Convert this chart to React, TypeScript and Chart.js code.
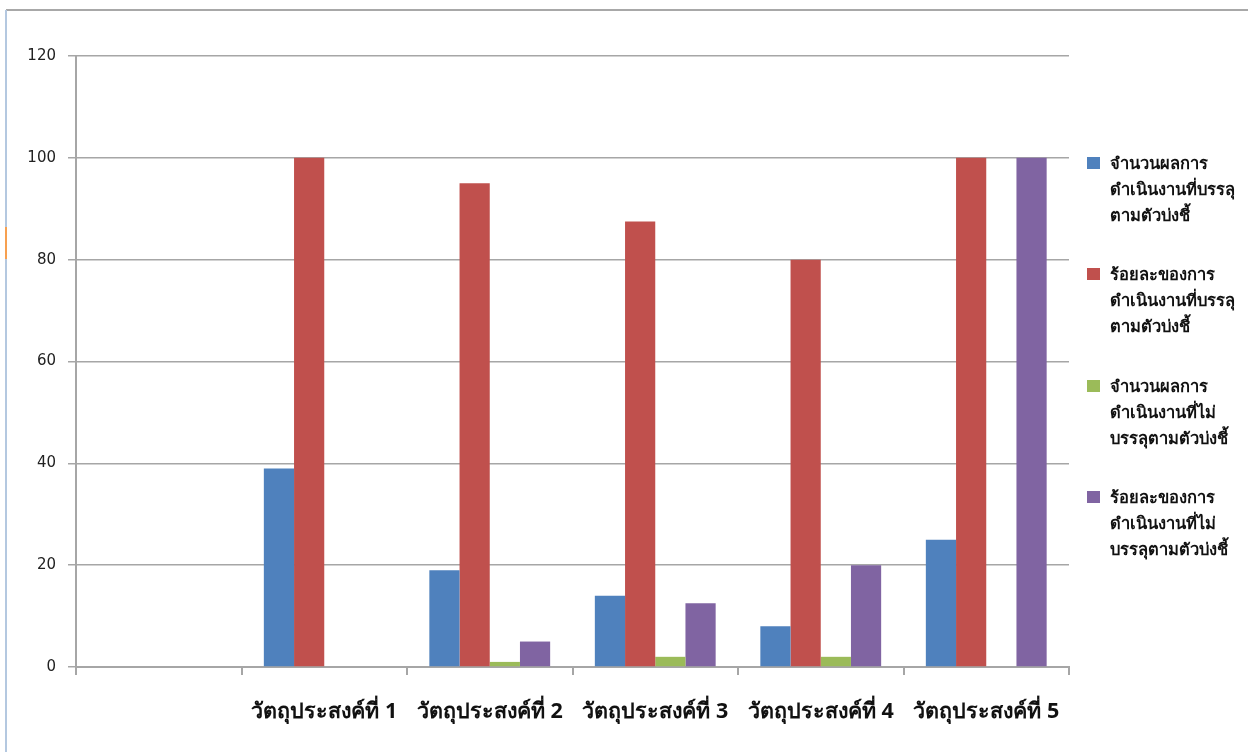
import React, { useEffect, useRef } from "react";
import { Chart, registerables } from "chart.js";

Chart.register(...registerables);

const categories = ["", "วัตถุประสงค์ที่ 1", "วัตถุประสงค์ที่ 2", "วัตถุประสงค์ที่ 3", "วัตถุประสงค์ที่ 4", "วัตถุประสงค์ที่ 5"];
const seriesNames = [
  ["จำนวนผลการ", "ดำเนินงานที่บรรลุ", "ตามตัวบ่งชี้"],
  ["ร้อยละของการ", "ดำเนินงานที่บรรลุ", "ตามตัวบ่งชี้"],
  ["จำนวนผลการ", "ดำเนินงานที่ไม่", "บรรลุตามตัวบ่งชี้"],
  ["ร้อยละของการ", "ดำเนินงานที่ไม่", "บรรลุตามตัวบ่งชี้"],
];
const achievedCount = [null, 39, 19, 14, 8, 25];
const achievedPercent = [null, 100, 95, 87.5, 80, 100];
const notAchievedCount = [null, 0, 1, 2, 2, 0];
const notAchievedPercent = [null, 0, 5, 12.5, 20, 100];
const seriesColors = ["#4F81BD", "#C0504D", "#9BBB59", "#8064A2"];
const yTicks = [0, 20, 40, 60, 80, 100, 120];

const FONT = "Tahoma, 'Noto Sans', 'DejaVu Sans', sans-serif";
const NUM_FONT = "'DejaVu Sans', Verdana, sans-serif";

export default function App() {
  const ref = useRef<HTMLCanvasElement>(null);
  useEffect(() => {
    if (!ref.current) return;
    const values = [achievedCount, achievedPercent, notAchievedCount, notAchievedPercent];
    const chart = new Chart(ref.current, {
      type: "bar",
      data: {
        labels: categories,
        datasets: values.map((v, i) => ({
          label: seriesNames[i].join(""),
          data: v as any,
          backgroundColor: seriesColors[i],
          borderWidth: 0,
          barPercentage: 1,
          categoryPercentage: 0.73,
        })),
      },
      options: {
        animation: false,
        responsive: false,
        maintainAspectRatio: false,
        layout: { padding: { left: 0, top: 56, right: 179, bottom: 0 } },
        plugins: { legend: { display: false }, tooltip: { enabled: false } },
        scales: {
          x: {
            grid: { display: true, drawOnChartArea: false, offset: true, color: "#a6a6a6", tickLength: 8, lineWidth: 2 },
            border: { display: true, color: "#a6a6a6", width: 2 },
            ticks: { color: "#111", font: { family: FONT, size: 21.5, weight: "bold" }, padding: 24, maxRotation: 0, autoSkip: false },
            afterFit: (s: any) => { s.height = 85; },
          },
          y: {
            min: 0,
            max: 120,
            afterBuildTicks: (s: any) => { s.ticks = yTicks.map((v) => ({ value: v })); },
            grid: { color: "#a6a6a6", tickLength: 8, lineWidth: 1.5 },
            border: { display: true, color: "#a6a6a6", width: 2 },
            ticks: { color: "#222", font: { family: NUM_FONT, size: 15 }, padding: 12 },
            afterFit: (s: any) => { s.width = 76; },
          },
        },
      },
    });
    return () => chart.destroy();
  }, []);

  const legendTops = [150, 261, 373, 484];
  return (
    <div style={{ position: "fixed", left: 0, top: 0, width: 1248, height: 752, background: "#fff", overflow: "hidden" }}>
      <div style={{ position: "absolute", left: 6, top: 9, right: 0, height: 2, background: "#a8a8a8" }} />
      <div style={{ position: "absolute", left: 5, top: 10, width: 2, bottom: 0, background: "#b4c8e0" }} />
      <div style={{ position: "absolute", left: 5, top: 227, width: 2, height: 32, background: "#f7a050" }} />
      <canvas ref={ref} width={1248} height={752} style={{ position: "absolute", left: 0, top: 0 }} />
      {seriesNames.map((lines, i) => (
        <div key={i} style={{ position: "absolute", left: 1087, top: legendTops[i], fontFamily: FONT, fontSize: 16.5, fontWeight: "bold", lineHeight: "26px", color: "#111" }}>
          <div style={{ position: "absolute", left: 0, top: 7, width: 13, height: 12, background: seriesColors[i] }} />
          <div style={{ marginLeft: 23 }}>
            {lines.map((l, j) => (
              <div key={j} style={{ whiteSpace: "nowrap" }}>{l}</div>
            ))}
          </div>
        </div>
      ))}
    </div>
  );
}
